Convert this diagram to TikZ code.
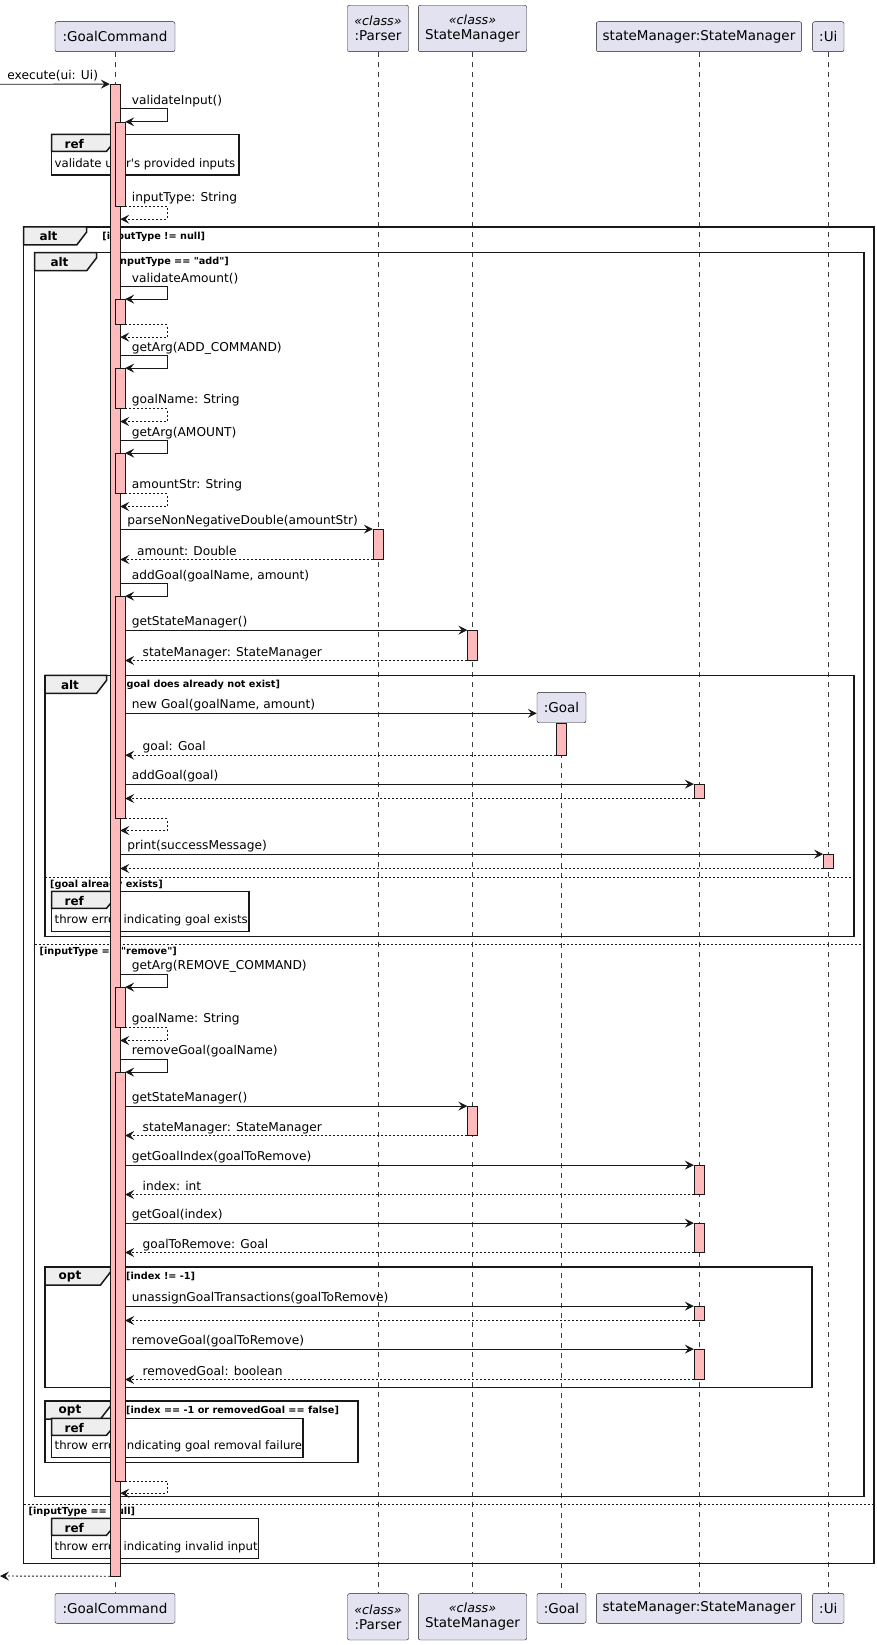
\documentclass[tikz,border=0pt]{standalone}
\usepackage{fontspec}
\setmainfont{DejaVu Sans}[Ligatures=TeXOff]
\usetikzlibrary{arrows.meta}
\definecolor{ink}{HTML}{181818}
\definecolor{partfill}{HTML}{E2E2F0}
\definecolor{actfill}{HTML}{FFBBBB}
\definecolor{tabfill}{HTML}{EEEEEE}
\begin{document}
\begin{tikzpicture}[x=1pt, y=-1pt,
        part/.style={draw=ink, fill=partfill, rounded corners=2pt, inner sep=0pt, align=center, font=\fontsize{13.5}{15}\selectfont},
        act/.style={draw=ink, fill=actfill, minimum width=10pt, inner sep=0pt},
        life/.style={draw=ink!85, line width=0.5pt, dash pattern=on 5pt off 5pt},
        call/.style={draw=ink, line width=0.9pt, -{Stealth[length=9pt, width=9pt, inset=3.5pt]}},
        ret/.style={call, dash pattern=on 2pt off 2pt},
        lbl/.style={anchor=base west, inner sep=0pt, yshift=4.5pt, font=\fontsize{12.2}{14}\selectfont},
        frame/.style={draw=ink, line width=1.5pt},
        tab/.style={draw=ink, line width=1.5pt, fill=tabfill},
        kw/.style={inner sep=0pt, font=\bfseries\fontsize{12}{14}\selectfont},
        guard/.style={anchor=west, inner sep=0pt, font=\bfseries\fontsize{9.7}{11}\selectfont},
        sep/.style={draw=ink, line width=0.8pt, dash pattern=on 2pt off 2pt},
        reftext/.style={anchor=west, inner sep=0pt, font=\fontsize{11.7}{13}\selectfont}]
    \useasboundingbox (0,0) rectangle (876,1645);

    \foreach \n/\x/\w/\h/\yt/\yb/\t in {
            gc/115/120/30/36.7/1608.3/{:GoalCommand},
            ps/378/61/46.4/28.5/1616.8/{{\fontsize{12.7}{15}\selectfont\itshape «class»}\\:Parser},
            sm/472.5/108.4/46.4/28.5/1616.8/{{\fontsize{12.7}{15}\selectfont\itshape «class»}\\StateManager},
            st/699/205.3/30/36.7/1608.3/{stateManager:StateManager},
            ui/828.3/31.4/30/36.7/1608.3/{:Ui}} {
        \node[part, minimum width=\w pt, minimum height=\h pt] (\n) at (\x,\yt) {\t};
        \node[part, minimum width=\w pt, minimum height=\h pt] (\n-b) at (\x,\yb) {\t};
        \draw[life] (\n) -- (\n-b);
    }
    \node[part, minimum width=49pt, minimum height=30.4pt] (gl) at (561.5,707.5) {:Goal};
    \node[part, minimum width=49pt, minimum height=30pt] (gl-b) at (561.5,1608.3) {:Goal};
    \draw[life] (gl) -- (gl-b);

    % frames
    \foreach \xa/\ya/\xb/\yb/\xt/\k/\g [count=\i] in {
            23.5/227/874/1563.7/86.7/alt/{[inputType != null]},
            34.5/252.7/864/1496.3/96.7/alt/{[inputType == "add"]},
            45/675.3/854/936.3/106.6/alt/{[goal does already not exist]},
            45/1267/812/1387.7/110.5/opt/{[index != -1]},
            45/1401/358/1462.3/110.5/opt/{[index == -1 or removedGoal == false]}} {
        \draw[frame] (\xa,\ya) rectangle (\xb,\yb);
        \draw[tab] (\xa,\ya) -- (\xt,\ya) -- (\xt,\ya+5) -- (\xt-10,\ya+18) -- (\xa,\ya+18) -- cycle;
        \node[kw] (fk\i) at (\xa+25,\ya+9.5) {\k};
        \node[guard] (fg\i) at (\xt+15.5,\ya+9.5) {\g};
    }
    \foreach \xa/\xb/\y/\g [count=\i] in {
            45/854/877.3/{[goal already exists]},
            34.5/864/944/{[inputType == "remove"]},
            23.5/874/1504.3/{[inputType == null]}} {
        \draw[sep] (\xa,\y) -- (\xb,\y);
        \node[guard] (q\i) at (\xa+5,\y+7.5) {\g};
    }
    \foreach \ya/\yb/\xb/\t [count=\i] in {
            134.3/175/239/validate user's provided inputs,
            891.3/931.7/249/throw error indicating goal exists,
            1418.3/1457.3/303/throw error indicating goal removal failure,
            1518.3/1558.3/258.7/throw error indicating invalid input} {
        \draw[frame, fill=white] (51.6,\ya) rectangle (\xb,\yb);
        \draw[tab] (51.6,\ya) -- (116.5,\ya) -- (116.5,\ya+5) -- (106.5,\ya+17) -- (51.6,\ya+17) -- cycle;
        \node[kw] (rk\i) at (74.3,\ya+9.5) {ref};
        \node[reftext] (rt\i) at (54.5,\yb-11) {\t};
    }

    % activations
    \node[act, minimum height=1491.7pt] (a0) at (115,830.15) {};
    \node[act, minimum height=84pt] (n1) at (120,164) {};
    \node[act, minimum height=25pt] (n2) at (120,311.8) {};
    \node[act, minimum height=40pt] (n3) at (120,388.3) {};
    \node[act, minimum height=40pt] (n4) at (120,473.3) {};
    \node[act, minimum height=30pt] (p1) at (378,544.3) {};
    \node[act, minimum height=222pt] (n5) at (120,707.3) {};
    \node[act, minimum height=30pt] (s1) at (472.5,645.3) {};
    \node[act, minimum height=31.7pt] (g1) at (561.5,739.15) {};
    \node[act, minimum height=14pt] (t1) at (699,791.3) {};
    \node[act, minimum height=14pt] (u1) at (828.3,861.3) {};
    \node[act, minimum height=40pt] (n6) at (120,1007.3) {};
    \node[act, minimum height=408.7pt] (n7) at (120,1276.65) {};
    \node[act, minimum height=29pt] (s2) at (472.5,1120.8) {};
    \node[act, minimum height=29pt] (t2) at (699,1179.8) {};
    \node[act, minimum height=29pt] (t3) at (699,1237.8) {};
    \node[act, minimum height=14pt] (t4) at (699,1313.3) {};
    \node[act, minimum height=30pt] (t5) at (699,1364.3) {};

    % messages
    \coordinate (in) at (0,84.3);
    \coordinate (out) at (0,1576);
    \draw[call] (in) -- node[lbl, pos=0, xshift=7pt] (m0) {execute(ui: Ui)} (a0.north west);
    \draw[call] (a0.east |- n1.north) ++(0,-13) -- node[lbl, pos=0, xshift=11.3pt] (m1) {validateInput()} ++(47,0) |- (n1.north east);
    \draw[ret] (n1.south east) -- node[lbl, pos=0, xshift=6.3pt, yshift=0.5pt] (m2) {inputType: String} ++(42,0) -- ++(0,13) -- ++(-47,0);
    \draw[call] (a0.east |- n2.north) ++(0,-12.6) -- node[lbl, pos=0, xshift=11.3pt] (m3) {validateAmount()} ++(47,0) |- (n2.north east);
    \draw[ret] (n2.south east) -- ++(42,0) -- ++(0,12.6) -- ++(-47,0);
    \draw[call] (a0.east |- n3.north) ++(0,-12.6) -- node[lbl, pos=0, xshift=11.3pt] (m4) {getArg(ADD\_COMMAND)} ++(47,0) |- (n3.north east);
    \draw[ret] (n3.south east) -- node[lbl, pos=0, xshift=6.3pt, yshift=0.5pt] (m5) {goalName: String} ++(42,0) -- ++(0,13) -- ++(-47,0);
    \draw[call] (a0.east |- n4.north) ++(0,-12.6) -- node[lbl, pos=0, xshift=11.3pt] (m6) {getArg(AMOUNT)} ++(47,0) |- (n4.north east);
    \draw[ret] (n4.south east) -- node[lbl, pos=0, xshift=6.3pt, yshift=0.5pt] (m7) {amountStr: String} ++(42,0) -- ++(0,13) -- ++(-47,0);
    \draw[call] (a0.east |- p1.north) -- node[lbl, pos=0, xshift=6.8pt] (m8) {parseNonNegativeDouble(amountStr)} (p1.north west);
    \draw[ret] (p1.south west) -- node[lbl, pos=1, xshift=16.4pt] (m9) {amount: Double} (a0.east |- p1.south);
    \draw[call] (a0.east |- n5.north) ++(0,-12.6) -- node[lbl, pos=0, xshift=11.3pt] (m10) {addGoal(goalName, amount)} ++(47,0) |- (n5.north east);
    \draw[call] (n5.east |- s1.north) -- node[lbl, pos=0, xshift=6.3pt] (m11) {getStateManager()} (s1.north west);
    \draw[ret] (s1.south west) -- node[lbl, pos=1, xshift=17pt] (m12) {stateManager: StateManager} (n5.east |- s1.south);
    \draw[call] (n5.east |- 0,713.3) -- node[lbl, pos=0, xshift=6.3pt] (m13) {new Goal(goalName, amount)} (gl.west |- 0,713.3);
    \draw[ret] (g1.south west) -- node[lbl, pos=1, xshift=17pt] (m14) {goal: Goal} (n5.east |- g1.south);
    \draw[call] (n5.east |- t1.north) -- node[lbl, pos=0, xshift=6.3pt] (m15) {addGoal(goal)} (t1.north west);
    \draw[ret] (t1.south west) -- (n5.east |- t1.south);
    \draw[ret] (n5.south east) -- ++(42,0) -- ++(0,12) -- ++(-47,0);
    \draw[call] (a0.east |- u1.north) -- node[lbl, pos=0, xshift=6.8pt] (m16) {print(successMessage)} (u1.north west);
    \draw[ret] (u1.south west) -- (a0.east |- u1.south);

    \draw[call] (a0.east |- n6.north) ++(0,-13) -- node[lbl, pos=0, xshift=11.3pt] (m17) {getArg(REMOVE\_COMMAND)} ++(47,0) |- (n6.north east);
    \draw[ret] (n6.south east) -- node[lbl, pos=0, xshift=6.3pt, yshift=0.5pt] (m18) {goalName: String} ++(42,0) -- ++(0,13) -- ++(-47,0);
    \draw[call] (a0.east |- n7.north) ++(0,-13) -- node[lbl, pos=0, xshift=11.3pt] (m19) {removeGoal(goalName)} ++(47,0) |- (n7.north east);
    \draw[call] (n7.east |- s2.north) -- node[lbl, pos=0, xshift=6.3pt] (m20) {getStateManager()} (s2.north west);
    \draw[ret] (s2.south west) -- node[lbl, pos=1, xshift=17pt] (m21) {stateManager: StateManager} (n7.east |- s2.south);
    \draw[call] (n7.east |- t2.north) -- node[lbl, pos=0, xshift=6.3pt] (m22) {getGoalIndex(goalToRemove)} (t2.north west);
    \draw[ret] (t2.south west) -- node[lbl, pos=1, xshift=17pt] (m23) {index: int} (n7.east |- t2.south);
    \draw[call] (n7.east |- t3.north) -- node[lbl, pos=0, xshift=6.3pt] (m24) {getGoal(index)} (t3.north west);
    \draw[ret] (t3.south west) -- node[lbl, pos=1, xshift=17pt] (m25) {goalToRemove: Goal} (n7.east |- t3.south);
    \draw[call] (n7.east |- t4.north) -- node[lbl, pos=0, xshift=6.3pt] (m26) {unassignGoalTransactions(goalToRemove)} (t4.north west);
    \draw[ret] (t4.south west) -- (n7.east |- t4.south);
    \draw[call] (n7.east |- t5.north) -- node[lbl, pos=0, xshift=6.3pt] (m27) {removeGoal(goalToRemove)} (t5.north west);
    \draw[ret] (t5.south west) -- node[lbl, pos=1, xshift=17pt] (m28) {removedGoal: boolean} (n7.east |- t5.south);
    \draw[ret] (n7.south east) -- ++(42,0) -- ++(0,12) -- ++(-47,0);
    \draw[ret] (a0.south west) -- (out);
\end{tikzpicture}
\end{document}
